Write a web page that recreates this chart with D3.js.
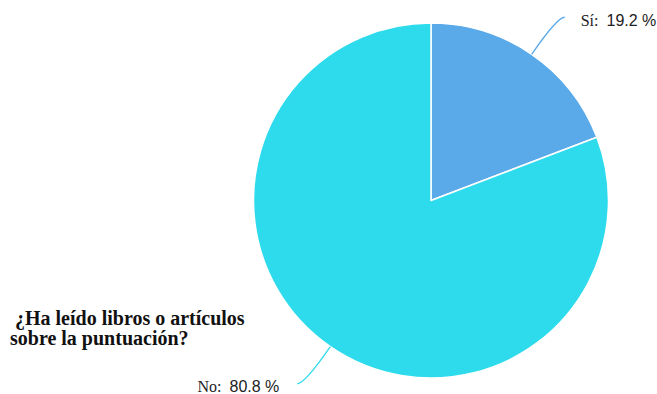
<!DOCTYPE html>
<html>
<head>
<meta charset="utf-8">
<script src="https://cdn.jsdelivr.net/npm/d3@7"></script>
<style>
  html, body { margin: 0; padding: 0; background: #fff; }
  svg { display: block; }
</style>
</head>
<body>
<svg id="chart" width="657" height="394"></svg>
<script>
// Survey answers and their shares (percent)
const categories = ["Sí", "No"];
const values = [19.2, 80.8];
const valueLabels = ["19.2 %", "80.8 %"];
const colors = ["#5aa9e9", "#2edbec"];
const titleLines = ["¿Ha leído libros o artículos", "sobre la puntuación?"];

const svg = d3.select("#chart");
const cx = 431, cy = 200.5, radius = 177.5;

const pie = d3.pie().sort(null).value(d => d.value);
const arcs = pie(categories.map((c, i) => ({ name: c, value: values[i], label: valueLabels[i], color: colors[i] })));
const arc = d3.arc().innerRadius(0).outerRadius(radius);

const g = svg.append("g").attr("transform", `translate(${cx},${cy})`);

g.selectAll("path.slice")
  .data(arcs)
  .join("path")
  .attr("class", "slice")
  .attr("d", arc)
  .attr("fill", d => d.data.color)
  .attr("stroke", "#fff")
  .attr("stroke-width", 1.5)
  .attr("stroke-linejoin", "round");

// Leader lines: radial out from the slice's mid angle, then a short horizontal hook
const extend = 45, hook = 7.5;
function leaderPoints(d) {
  const a = (d.startAngle + d.endAngle) / 2;
  const sx = Math.sin(a), sy = -Math.cos(a);
  const side = sx >= 0 ? 1 : -1;
  const p0 = [radius * sx, radius * sy];
  const p1 = [(radius + extend) * sx, (radius + extend) * sy];
  const p2 = [p1[0] + side * hook, p1[1]];
  return { p0, p1, p2, side };
}

g.selectAll("path.leader")
  .data(arcs)
  .join("path")
  .attr("class", "leader")
  .attr("fill", "none")
  .attr("stroke", d => d.data.color)
  .attr("stroke-width", 1.3)
  .attr("d", d => {
    const { p0, p1, p2 } = leaderPoints(d);
    const path = d3.path();
    path.moveTo(p0[0], p0[1]);
    path.quadraticCurveTo(p1[0], p1[1], p2[0], p2[1]);
    return path.toString();
  });

// Slice labels: category name in serif, value in sans
g.selectAll("text.label")
  .data(arcs)
  .join("text")
  .attr("class", "label")
  .attr("fill", "#222")
  .attr("font-size", 16)
  .each(function (d) {
    const { p2, side } = leaderPoints(d);
    const t = d3.select(this)
      .attr("x", p2[0] + side * (side > 0 ? 16 : 18))
      .attr("y", p2[1] + 8.5)
      .attr("text-anchor", side > 0 ? "start" : "end");
    t.append("tspan")
      .attr("font-family", "'Liberation Serif', 'Times New Roman', serif")
      .text(d.data.name + ":");
    t.append("tspan")
      .attr("dx", 8)
      .attr("font-family", "'Liberation Sans', Arial, sans-serif")
      .text(d.data.label);
  });

// Question title, bottom left
svg.append("g")
  .selectAll("text.title")
  .data(titleLines)
  .join("text")
  .attr("class", "title")
  .attr("x", (d, i) => i === 0 ? 15 : 10)
  .attr("y", (d, i) => 324.5 + i * 20.5)
  .attr("font-family", "'Liberation Serif', 'Times New Roman', serif")
  .attr("font-weight", "bold")
  .attr("font-size", 20)
  .attr("fill", "#111")
  .text(d => d);
</script>
</body>
</html>
